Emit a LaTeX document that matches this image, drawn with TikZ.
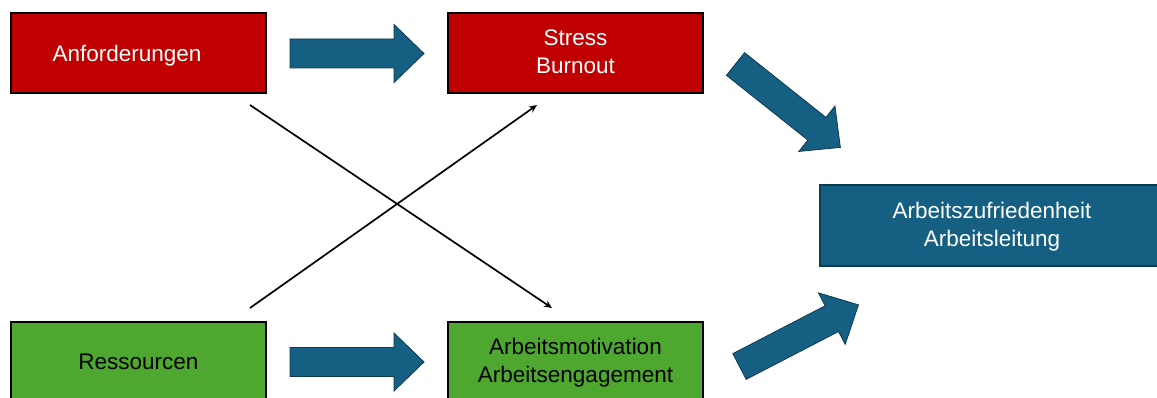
\documentclass[tikz,border=0pt]{standalone}
\usepackage{fontspec}
\setmainfont{Liberation Sans}
\usetikzlibrary{arrows.meta}
\definecolor{demred}{HTML}{C00000}
\definecolor{resgreen}{HTML}{4EA72E}
\definecolor{outblue}{HTML}{156082}
\definecolor{edgeblue}{HTML}{0E3A4F}
\tikzset{
  box/.style={draw=black, line width=1.4pt, minimum width=255pt, inner sep=0pt},
  lbl/.style={font=\fontsize{22.5}{28}\selectfont, align=center, inner sep=0pt, anchor=base},
  link/.style={draw=black, line width=1.7pt, -{Stealth[length=8pt,width=7pt]}},
  fatarrow/.pic={
    \path[fill=outblue, draw=edgeblue, line width=0.8pt, line join=miter]
      (0,-14.5) -- (104,-14.5) -- (104,-29) -- (134,0) -- (104,29)
      -- (104,14.5) -- (0,14.5) -- cycle;
  }
}
\begin{document}
\begin{tikzpicture}[x=1pt, y=-1pt]
  \useasboundingbox (0,0) rectangle (1157,398);
  \clip (0,0) rectangle (1157,398);

  % boxes
  \node[box, fill=demred, minimum height=80pt] (anf) at (138.5,53) {};
  \node[box, fill=demred, minimum height=80pt] (stress) at (575.5,53) {};
  \node[box, fill=resgreen, minimum height=86pt] (res) at (138.5,365) {};
  \node[box, fill=resgreen, minimum height=86pt] (mot) at (575.5,365) {};
  \node[box, draw=edgeblue, fill=outblue, minimum width=342pt, minimum height=81pt] (out) at (991,225.5) {};

  % labels, placed on their last baseline
  \node[lbl, text=white] (anftxt) at (127,62) {Anforderungen};
  \node[lbl, text=white] (stresstxt) at (575.5,74) {Stress\\Burnout};
  \node[lbl, text=black] (restxt) at (138.5,369) {Ressourcen};
  \node[lbl, text=black] (mottxt) at (575.5,382.5) {Arbeitsmotivation\\Arbeitsengagement};
  \node[lbl, text=white] (outtxt) at (992,247) {Arbeitszufriedenheit\\Arbeitsleitung};

  % block arrows
  \pic at (290,53.5) {fatarrow};
  \pic at (290,362) {fatarrow};
  \pic[rotate=-38.5] at (735.5,64) {fatarrow};
  \pic[rotate=27.4] at (739.5,366.5) {fatarrow};

  % crossing influence lines
  \coordinate (a1) at (250,105);
  \coordinate (a2) at (552,308);
  \coordinate (b1) at (250,308);
  \coordinate (b2) at (537,105);
  \draw[link] (a1) -- (a2);
  \draw[link] (b1) -- (b2);
\end{tikzpicture}
\end{document}
